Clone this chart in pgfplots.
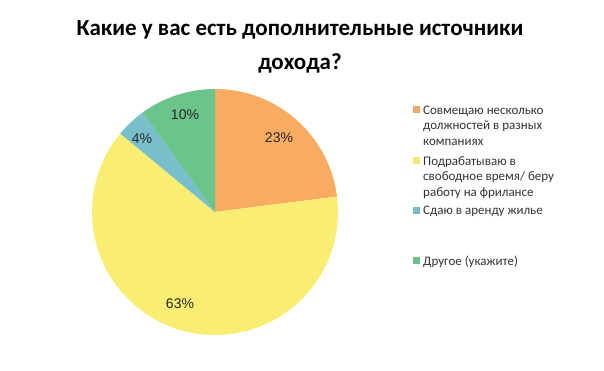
\documentclass[border=0pt]{standalone}
\usepackage{pgfplots}
\usepackage{pgfplotstable}
\pgfplotsset{compat=1.18}
\usepackage{fontspec}
\setmainfont{Carlito}
\newfontfamily\pctfont{Liberation Sans}

\definecolor{cOrange}{HTML}{F7AC62}
\definecolor{cYellow}{HTML}{F9EE73}
\definecolor{cTeal}{HTML}{78BFC9}
\definecolor{cGreen}{HTML}{6BC58A}

\pgfplotstableread{
val
23
63
4
10
}\piedata

\pgfplotstablegetelem{0}{val}\of\piedata \let\vA\pgfplotsretval
\pgfplotstablegetelem{1}{val}\of\piedata \let\vB\pgfplotsretval
\pgfplotstablegetelem{2}{val}\of\piedata \let\vC\pgfplotsretval
\pgfplotstablegetelem{3}{val}\of\piedata \let\vD\pgfplotsretval
\pgfmathsetmacro\aZ{90}
\pgfmathsetmacro\aA{\aZ-3.6*\vA}
\pgfmathsetmacro\aB{\aA-3.6*\vB}
\pgfmathsetmacro\aC{\aB-3.6*\vC}
\pgfmathsetmacro\aD{\aC-3.6*\vD}

\begin{document}
\begin{tikzpicture}
\path[use as bounding box] (0,0) rectangle (604bp,371bp);
\begin{axis}[
  at={(0,0)}, anchor=origin,
  x=1bp, y=1bp,
  xmin=0, xmax=604, ymin=0, ymax=371,
  hide axis, clip=false,
]
% pie slices (center (215,159), radius 123)
\fill[cOrange] (axis cs:215,159) -- ++(\aZ:123bp) arc[start angle=\aZ, end angle=\aA, radius=123bp] -- cycle;
\fill[cYellow] (axis cs:215,159) -- ++(\aA:123bp) arc[start angle=\aA, end angle=\aB, radius=123bp] -- cycle;
\fill[cTeal] (axis cs:215,159) -- ++(\aB:123bp) arc[start angle=\aB, end angle=\aC, radius=123bp] -- cycle;
\fill[cGreen] (axis cs:215,159) -- ++(\aC:123bp) arc[start angle=\aC, end angle=\aD, radius=123bp] -- cycle;

% percent labels
\node[font=\pctfont\fontsize{14bp}{16bp}\selectfont, text=black!85] at (axis cs:279,233) {\vA\%};
\node[font=\pctfont\fontsize{14bp}{16bp}\selectfont, text=black!85] at (axis cs:180,67) {\vB\%};
\node[font=\pctfont\fontsize{14bp}{16bp}\selectfont, text=black!85] at (axis cs:142,232) {\vC\%};
\node[font=\pctfont\fontsize{14bp}{16bp}\selectfont, text=black!85] at (axis cs:185,256) {\vD\%};

% title
\node[font=\bfseries\fontsize{23bp}{27bp}\selectfont] at (axis cs:300,341) {Какие у вас есть дополнительные источники};
\node[font=\bfseries\fontsize{23bp}{27bp}\selectfont] at (axis cs:300,308) {дохода?};

% legend markers
\addplot[only marks, mark=square*, mark size=3bp, color=cOrange!92!gray] coordinates {(416,262)};
\addplot[only marks, mark=square*, mark size=3bp, color=cYellow!95!gray] coordinates {(416,211)};
\addplot[only marks, mark=square*, mark size=3bp, color=cTeal!92!gray] coordinates {(416,161)};
\addplot[only marks, mark=square*, mark size=3bp, color=cGreen!92!gray] coordinates {(416,111)};

% legend text
\begin{scope}[every node/.style={font=\fontsize{13bp}{15bp}\selectfont, anchor=base west, inner sep=0pt, text=black!80}]
\node at (axis cs:423,257) {Совмещаю несколько};
\node at (axis cs:423,242) {должностей в разных};
\node at (axis cs:423,226) {компаниях};
\node at (axis cs:423,206) {Подрабатываю в};
\node at (axis cs:423,191) {свободное время/ беру};
\node at (axis cs:423,175) {работу на фрилансе};
\node at (axis cs:423,157) {Сдаю в аренду жилье};
\node at (axis cs:423,106) {Другое (укажите)};
\end{scope}
\end{axis}
\end{tikzpicture}
\end{document}
